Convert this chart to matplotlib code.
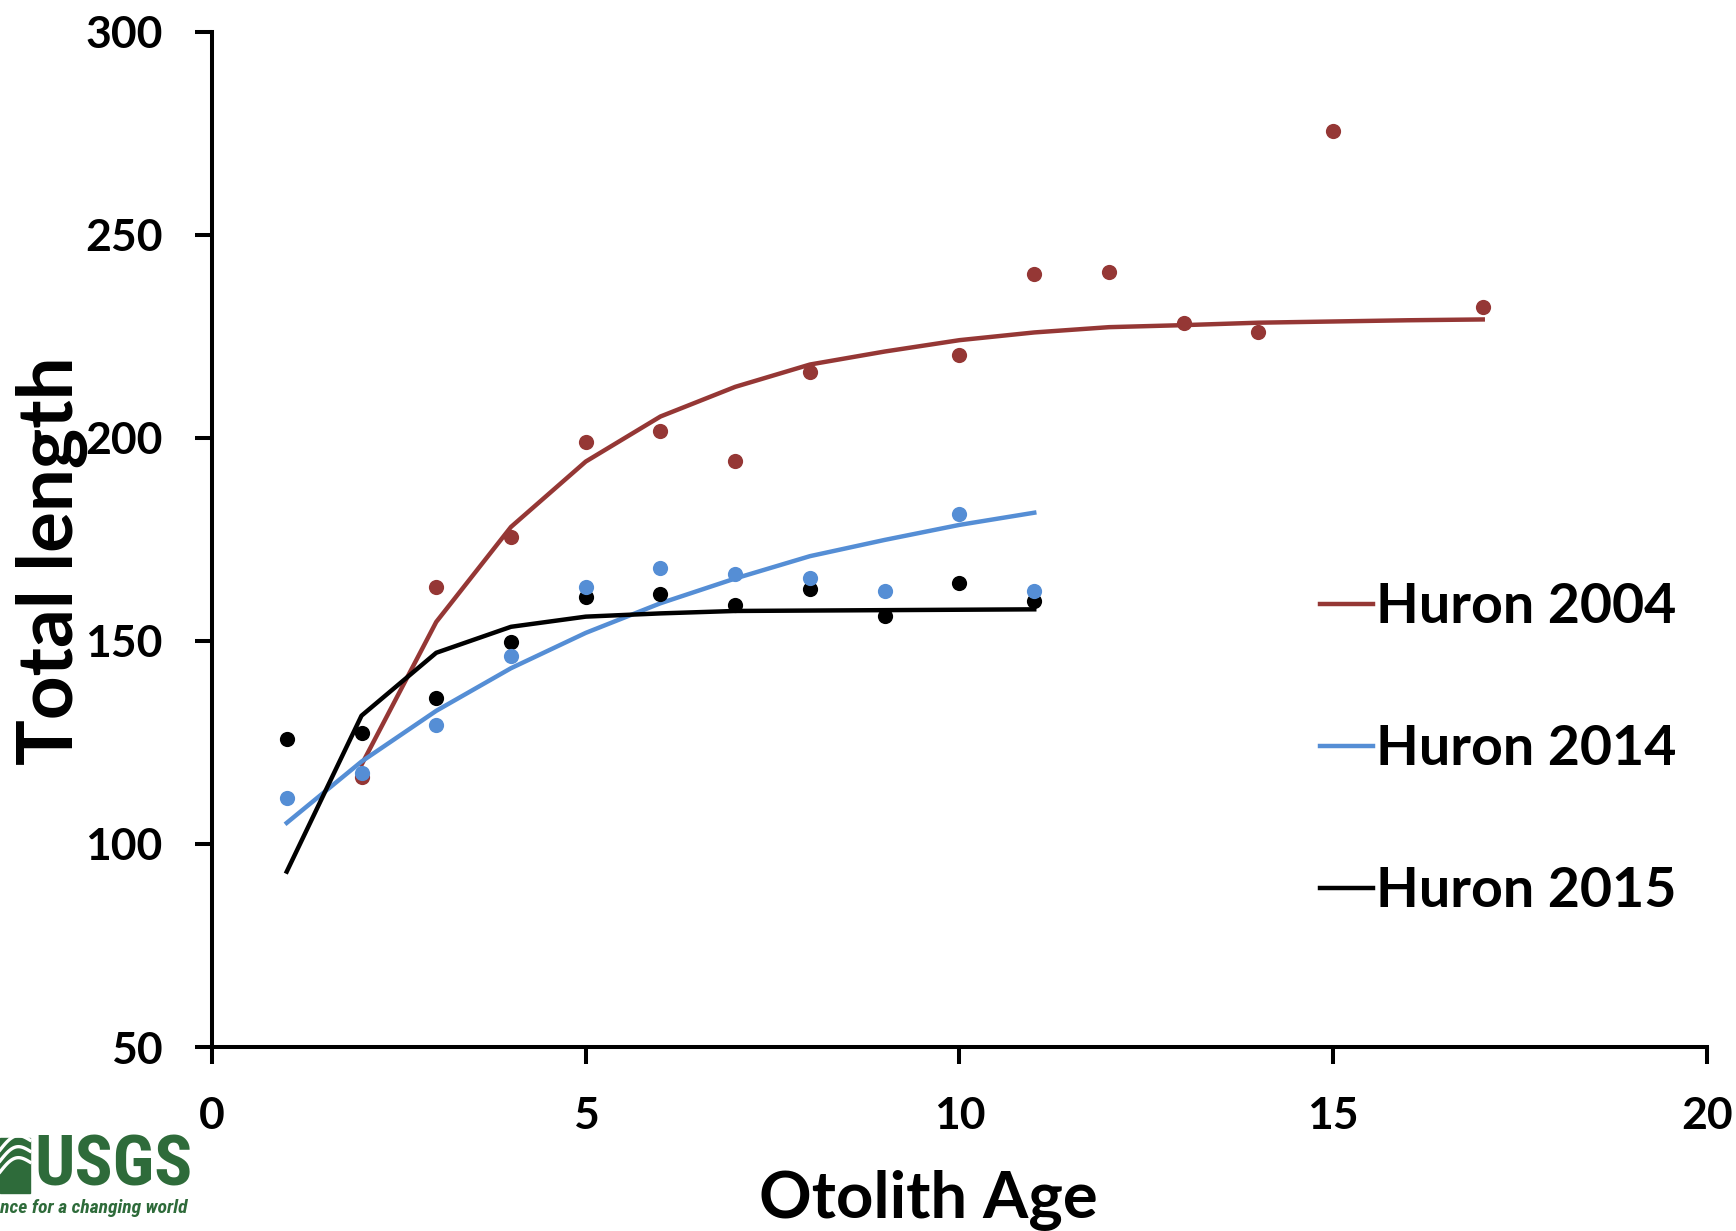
import numpy as np
import matplotlib.pyplot as plt
from matplotlib.lines import Line2D

# 年龄-全长观测值 (Huron 2004 / 2014 / 2015)
age_2004 = [2, 3, 4, 5, 6, 7, 8, 10, 11, 12, 13, 14, 15, 17]
len_2004 = [116.5, 163.4, 175.6, 198.9, 201.7, 194.4, 216.3, 220.4, 240.3, 240.8, 228.3, 226.0, 275.5, 232.3]

age_2014 = [1, 2, 3, 4, 5, 6, 7, 8, 9, 10, 11]
len_2014 = [111.3, 117.4, 129.3, 146.4, 163.4, 168.1, 166.4, 165.4, 162.4, 181.2, 162.4]

age_2015 = [1, 2, 3, 4, 5, 6, 7, 8, 9, 10, 11]
len_2015 = [125.8, 127.4, 136.0, 149.8, 160.8, 161.5, 158.9, 162.8, 156.2, 164.2, 159.9]

# 拟合生长曲线 (按整数年龄取值)
fit_age_2004 = [2, 3, 4, 5, 6, 7, 8, 9, 10, 11, 12, 13, 14, 15, 16, 17]
fit_len_2004 = [119.5, 154.7, 178.1, 194.2, 205.3, 212.6, 218.1, 221.3, 224.1, 226.0,
                227.3, 227.8, 228.4, 228.7, 229.0, 229.2]

fit_age_2014 = [1, 2, 3, 4, 5, 6, 7, 8, 9, 10, 11]
fit_len_2014 = [105.2, 120.3, 132.8, 143.3, 152.0, 159.3, 165.4, 170.9, 174.9, 178.6, 181.6]

fit_age_2015 = [1, 2, 3, 4, 5, 6, 7, 8, 9, 10, 11]
fit_len_2015 = [93.2, 131.6, 147.1, 153.5, 156.0, 156.8, 157.4, 157.5, 157.6, 157.7, 157.8]

series_names = ["Huron 2004", "Huron 2014", "Huron 2015"]
series_colors = ["#953735", "#558ED5", "#000000"]

x_ticks = [0, 5, 10, 15, 20]
y_ticks = [50, 100, 150, 200, 250, 300]

plt.rcParams['font.family'] = ['Lato', 'DejaVu Sans']
plt.rcParams['font.weight'] = 'bold'

W, H = 1736, 1231
fig = plt.figure(figsize=(W / 100, H / 100), dpi=100)
ax = fig.add_axes([212 / W, 1 - 1047 / H, (1707 - 212) / W, (1047 - 32) / H])

lw = 3.2
ax.plot(fit_age_2004, fit_len_2004, color=series_colors[0], lw=lw, zorder=2)
ax.plot(fit_age_2014, fit_len_2014, color=series_colors[1], lw=lw, zorder=2)
ax.plot(fit_age_2015, fit_len_2015, color=series_colors[2], lw=lw, zorder=2)

ms = 120
ax.scatter(age_2004, len_2004, s=ms, color=series_colors[0], lw=0, zorder=3)
ax.scatter(age_2015, len_2015, s=ms, color=series_colors[2], lw=0, zorder=4)
ax.scatter(age_2014, len_2014, s=ms, color=series_colors[1], lw=0, zorder=5)

ax.set_xlim(0, 20)
ax.set_ylim(50, 300)
ax.set_xticks(x_ticks)
ax.set_yticks(y_ticks)

for side in ['top', 'right']:
    ax.spines[side].set_visible(False)
for side in ['left', 'bottom']:
    ax.spines[side].set_linewidth(2.9)
ax.tick_params(axis='both', direction='out', length=12.5, width=2.9,
               labelsize=32, pad=23)
for lab in ax.get_xticklabels() + ax.get_yticklabels():
    lab.set_fontweight('bold')

ax.set_xlabel("Otolith Age", fontsize=47, fontweight='bold')
ax.set_ylabel("Total length", fontsize=55, fontweight='bold')
ax.xaxis.set_label_coords(0.479, -0.121)
ax.yaxis.set_label_coords(-0.083, 0.479)

# 图例: 只显示短线
handles = [Line2D([], [], color=c, lw=lw) for c in series_colors]
leg = fig.legend(handles, series_names, loc='upper left',
                 bbox_to_anchor=(1320 / W, 1 - 582 / H),
                 frameon=False, fontsize=40, handlelength=0.95,
                 handletextpad=0.05, labelspacing=1.66, borderpad=0,
                 borderaxespad=0)
for t in leg.get_texts():
    t.set_fontweight('bold')

# USGS 标识
green = "#2E6B3A"
fig.patches.append(plt.Rectangle((0, 1 - 1193 / H), 30 / W, 55 / H,
                                 transform=fig.transFigure, color=green))
for k in range(3):
    yy = np.linspace(0, 1, 30)
    xs = yy * 30 / W
    ys = 1 - (1172 - k * 11) / H + 0.012 * np.sin(yy * np.pi) * 0.6 + yy * 0.008
    fig.add_artist(Line2D(xs, ys, color='white', lw=2.4, transform=fig.transFigure))
fig.text(34 / W, 1 - 1166 / H, "USGS", color=green, fontsize=51,
         fontweight='bold', va='center', ha='left', fontstretch='condensed',
         family=['Liberation Sans Narrow', 'Roboto Condensed', 'DejaVu Sans'])
fig.text(-9 / W, 1 - 1208 / H, "ence for a changing world", color=green,
         fontsize=14, fontweight='bold', style='italic', va='center', ha='left',
         family=['Liberation Sans Narrow', 'Roboto Condensed', 'DejaVu Sans'])

fig.savefig("out.png", dpi=100)
